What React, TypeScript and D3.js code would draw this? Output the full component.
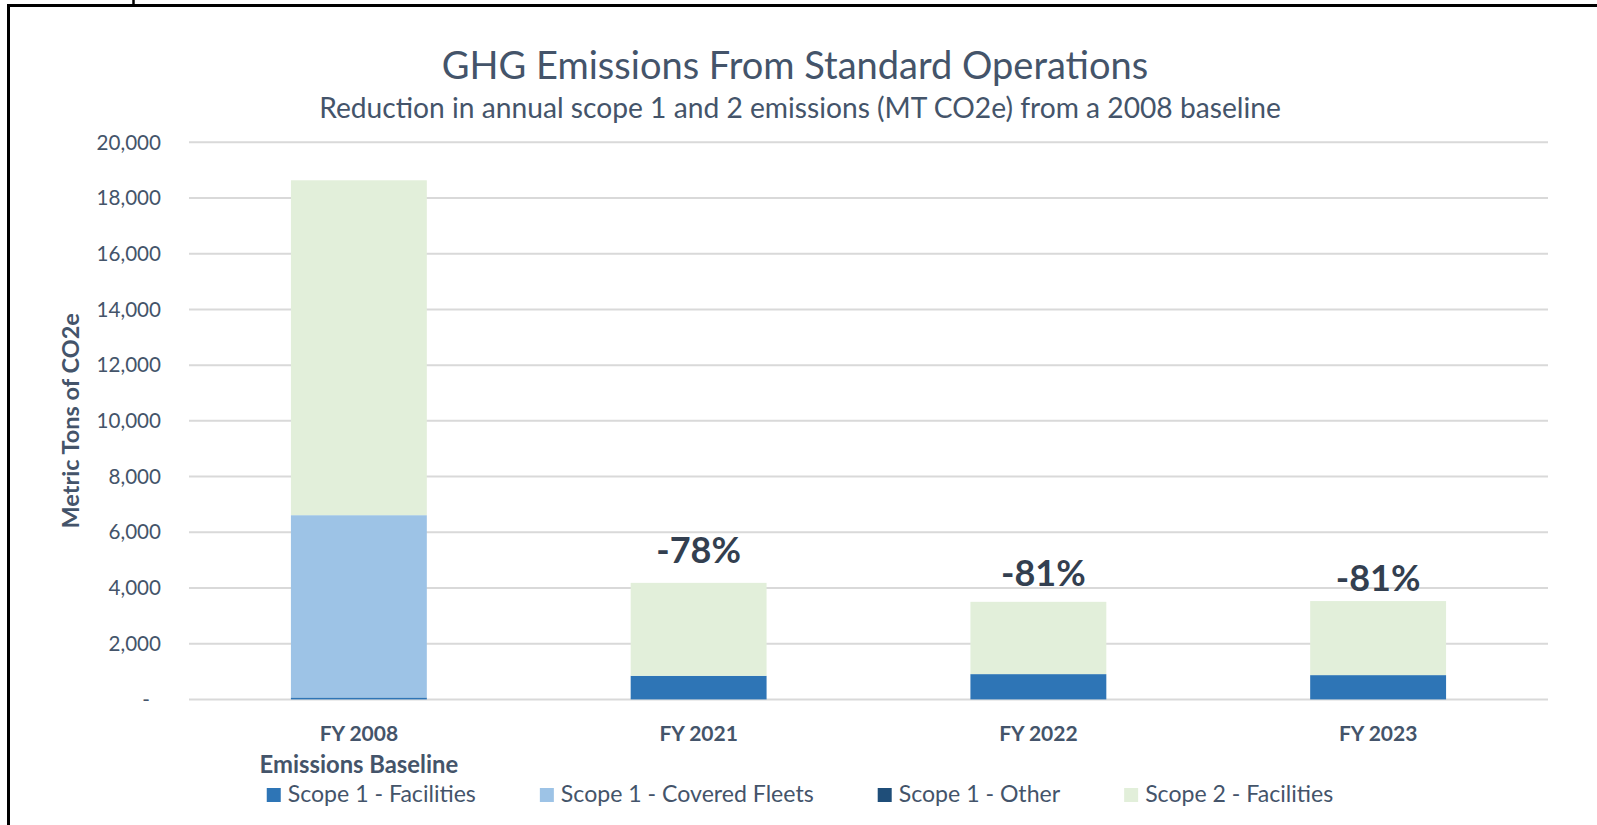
import { useEffect, useRef } from 'react';
import * as d3 from 'd3';

// chart data (MT CO2e)
const categories = ['FY 2008', 'FY 2021', 'FY 2022', 'FY 2023'];
const categorySubLabels = ['Emissions Baseline', '', '', ''];
const seriesNames = ['Scope 1 - Facilities', 'Scope 1 - Covered Fleets', 'Scope 1 - Other', 'Scope 2 - Facilities'];
const scope1Facilities = [70, 847, 908, 872];
const scope1CoveredFleets = [6544, 0, 0, 0];
const scope1Other = [0, 0, 0, 0];
const scope2Facilities = [12022, 3337, 2595, 2658];
const reductionLabels = ['', '-78%', '-81%', '-81%'];
const yTicks = [0, 2000, 4000, 6000, 8000, 10000, 12000, 14000, 16000, 18000, 20000];

const seriesColors = ['#2E75B6', '#9DC3E6', '#1F4E79', '#E2EFDA'];
const FONT = "Lato, 'Open Sans', sans-serif";
const TEXT = '#44546A';

const W = 1597;
const H = 825;

export default function App() {
  const svgRef = useRef<SVGSVGElement>(null);

  useEffect(() => {
    if (!svgRef.current) return;
    const svg = d3.select(svgRef.current);
    svg.selectAll('*').remove();

    const plot = { left: 189, right: 1548, top: 142.3, bottom: 699.4 };

    const x = d3
      .scaleBand()
      .domain(categories)
      .range([plot.left, plot.right])
      .paddingInner(0.6)
      .paddingOuter(0.3);

    const y = d3.scaleLinear().domain([0, 20000]).range([plot.bottom, plot.top]);

    // frame lines
    svg.append('rect').attr('x', 0).attr('y', 0).attr('width', W).attr('height', H).attr('fill', '#fff');
    svg.append('line').attr('x1', 7).attr('x2', W).attr('y1', 5.5).attr('y2', 5.5).attr('stroke', '#000').attr('stroke-width', 3);
    svg.append('line').attr('x1', 8.5).attr('x2', 8.5).attr('y1', 4).attr('y2', H).attr('stroke', '#000').attr('stroke-width', 3);
    svg.append('line').attr('x1', 133.5).attr('x2', 133.5).attr('y1', 0).attr('y2', 7).attr('stroke', '#000').attr('stroke-width', 2.5);

    // titles
    svg.append('text')
      .attr('x', 795).attr('y', 79)
      .attr('text-anchor', 'middle')
      .style('font-family', FONT).style('font-size', '38px').style('fill', TEXT)
      .text('GHG Emissions From Standard Operations');

    svg.append('text')
      .attr('x', 800).attr('y', 118)
      .attr('text-anchor', 'middle')
      .style('font-family', FONT).style('font-size', '28.2px').style('fill', TEXT)
      .text('Reduction in annual scope 1 and 2 emissions (MT CO2e) from a 2008 baseline');

    // gridlines
    svg.append('g')
      .selectAll('line')
      .data(yTicks)
      .enter()
      .append('line')
      .attr('x1', plot.left).attr('x2', plot.right)
      .attr('y1', (d) => y(d)).attr('y2', (d) => y(d))
      .attr('stroke', '#D9D9D9').attr('stroke-width', 2);

    // y tick labels
    const fmt = d3.format(',');
    svg.append('g')
      .selectAll('text')
      .data(yTicks)
      .enter()
      .append('text')
      .attr('x', (d) => (d === 0 ? 150 : 161))
      .attr('y', (d) => y(d))
      .attr('dy', '0.35em')
      .attr('text-anchor', 'end')
      .style('font-family', FONT).style('font-size', '20.6px').style('fill', TEXT)
      .text((d) => (d === 0 ? '-' : fmt(d)));

    // y axis title
    svg.append('text')
      .attr('transform', `translate(79,${(plot.top + plot.bottom) / 2}) rotate(-90)`)
      .attr('text-anchor', 'middle')
      .style('font-family', FONT).style('font-size', '23.5px').style('font-weight', 700).style('fill', TEXT)
      .text('Metric Tons of CO2e');

    // stacked bars
    const rows = categories.map((c, i) => ({
      category: c,
      [seriesNames[0]]: scope1Facilities[i],
      [seriesNames[1]]: scope1CoveredFleets[i],
      [seriesNames[2]]: scope1Other[i],
      [seriesNames[3]]: scope2Facilities[i],
    }));
    const stacked = d3.stack<any>().keys(seriesNames)(rows);

    svg.append('g')
      .selectAll('g')
      .data(stacked)
      .enter()
      .append('g')
      .attr('fill', (d, i) => seriesColors[i])
      .selectAll('rect')
      .data((d) => d)
      .enter()
      .append('rect')
      .attr('x', (d) => x(d.data.category) || 0)
      .attr('width', x.bandwidth())
      .attr('y', (d) => y(d[1]))
      .attr('height', (d) => y(d[0]) - y(d[1]));

    // reduction labels above bars
    const labelNudge = [0, 20, 16, 10];
    const labelShift = [0, 0, 5, 0];
    const totals = categories.map(
      (c, i) => scope1Facilities[i] + scope1CoveredFleets[i] + scope1Other[i] + scope2Facilities[i]
    );
    svg.append('g')
      .selectAll('text')
      .data(categories)
      .enter()
      .append('text')
      .attr('x', (d, i) => (x(d) || 0) + x.bandwidth() / 2 + labelShift[i])
      .attr('y', (d, i) => y(totals[i]) - labelNudge[i])
      .attr('text-anchor', 'middle')
      .style('font-family', FONT).style('font-size', '36px').style('font-weight', 700).style('fill', '#333F50')
      .text((d, i) => reductionLabels[i]);

    // category labels
    const xl = svg.append('g');
    xl.selectAll('text.cat')
      .data(categories)
      .enter()
      .append('text')
      .attr('class', 'cat')
      .attr('x', (d) => (x(d) || 0) + x.bandwidth() / 2)
      .attr('y', 740.5)
      .attr('text-anchor', 'middle')
      .style('font-family', FONT).style('font-size', '21px').style('font-weight', 700).style('fill', TEXT)
      .text((d) => d);
    xl.selectAll('text.sub')
      .data(categories)
      .enter()
      .append('text')
      .attr('class', 'sub')
      .attr('x', (d) => (x(d) || 0) + x.bandwidth() / 2)
      .attr('y', 772.5)
      .attr('text-anchor', 'middle')
      .style('font-family', FONT).style('font-size', '23.8px').style('font-weight', 700).style('fill', TEXT)
      .text((d, i) => categorySubLabels[i]);

    // legend, centred
    const legend = svg.append('g');
    const items = legend
      .selectAll('g')
      .data(seriesNames)
      .enter()
      .append('g');
    items.append('rect')
      .attr('width', 14).attr('height', 14)
      .attr('y', 788)
      .attr('fill', (d, i) => seriesColors[i]);
    const labels = items.append('text')
      .attr('x', 21)
      .attr('y', 802)
      .style('font-family', FONT).style('font-size', '23.1px').style('fill', TEXT)
      .text((d) => d);

    const widths: number[] = [];
    labels.each(function () {
      widths.push(21 + (this as SVGTextElement).getComputedTextLength());
    });
    const gap = 64;
    const total = d3.sum(widths) + gap * (widths.length - 1);
    let cx = 800 - total / 2;
    items.attr('transform', (d, i) => {
      const t = `translate(${cx},0)`;
      cx += widths[i] + gap;
      return t;
    });
  }, []);

  return (
    <div style={{ position: 'absolute', left: 0, top: 0, width: W, height: H, background: '#fff' }}>
      <svg ref={svgRef} width={W} height={H}></svg>
    </div>
  );
}
